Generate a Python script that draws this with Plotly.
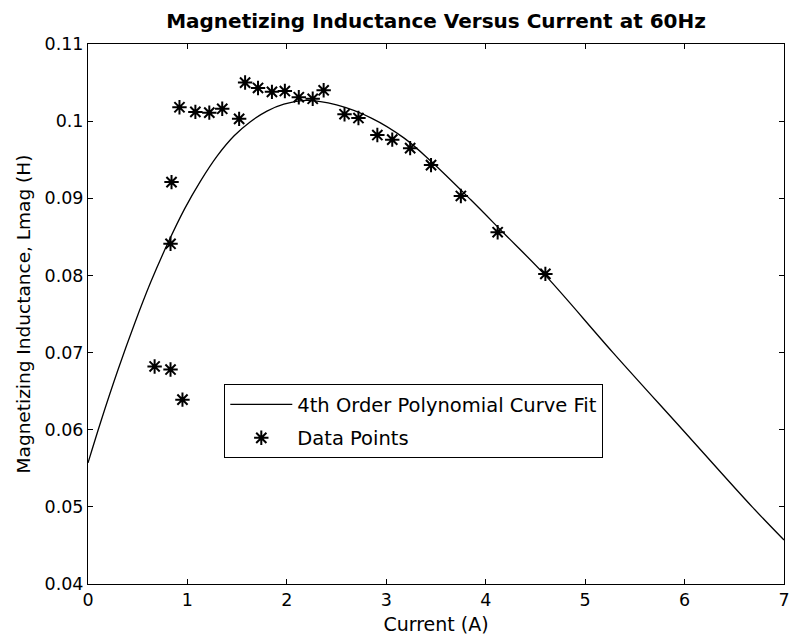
import plotly.graph_objects as go

# Measured data points (Current in A, Magnetizing inductance in H)
current_points = [0.67, 0.83, 0.95, 0.83, 0.84, 0.92, 1.08, 1.22, 1.35, 1.52, 1.58, 1.71, 1.85,
                  1.98, 2.12, 2.26, 2.37, 2.58, 2.72, 2.91, 3.06, 3.24, 3.45, 3.75, 4.12, 4.60]
inductance_points = [0.0682, 0.0678, 0.0639, 0.0841, 0.0921, 0.1018, 0.1012, 0.1011, 0.1016, 0.1003,
                     0.1050, 0.1043, 0.1038, 0.1039, 0.1031, 0.1029, 0.1040, 0.1009, 0.1004, 0.0982,
                     0.0976, 0.0965, 0.0943, 0.0903, 0.0856, 0.0802]

# 4th order polynomial curve fit
fit_current = [0.0, 0.13, 0.30, 0.47, 0.63, 0.80, 0.97, 1.13, 1.30, 1.47, 1.63, 1.80, 1.97,
               2.20, 2.50, 2.85, 3.18, 3.45, 3.85, 4.18, 4.60, 5.28, 5.98, 6.68, 7.0]
fit_inductance = [0.0557, 0.0611, 0.0677, 0.0738, 0.0791, 0.0841, 0.0886, 0.0922, 0.0955, 0.0981,
                  0.0999, 0.1013, 0.1022, 0.1027, 0.1021, 0.1004, 0.0978, 0.0948, 0.0898, 0.0855,
                  0.0800, 0.0700, 0.0600, 0.0500, 0.0457]

x_ticks = [0, 1, 2, 3, 4, 5, 6, 7]
y_ticks = [0.04, 0.05, 0.06, 0.07, 0.08, 0.09, 0.10, 0.11]
y_tick_labels = ["0.04", "0.05", "0.06", "0.07", "0.08", "0.09", "0.1", "0.11"]

FONT = "DejaVu Sans"

fig = go.Figure()
fig.add_trace(go.Scatter(
    x=fit_current, y=fit_inductance, mode="lines",
    line=dict(color="black", width=1.3, shape="spline", smoothing=1.0),
    name="4th Order Polynomial Curve Fit", legendgroup="a",
))
fig.add_trace(go.Scatter(
    x=current_points, y=inductance_points, mode="markers",
    marker=dict(symbol="asterisk-open", size=12, color="black", line=dict(color="black", width=2)),
    name="Data Points", legendgroup="b",
))

axis_common = dict(
    showline=True, linecolor="black", linewidth=1, mirror="ticks",
    ticks="inside", ticklen=5, tickcolor="black", tickwidth=1,
    showgrid=False, zeroline=False, automargin=False,
    tickfont=dict(family=FONT, size=17.5, color="black"),
)

fig.update_layout(
    width=791, height=642,
    margin=dict(l=88, r=7, t=44, b=58),
    paper_bgcolor="white", plot_bgcolor="white",
    title=dict(
        text="Magnetizing Inductance Versus Current at 60Hz",
        font=dict(family=FONT, size=20, color="black", weight="bold"),
        x=0.5, xref="paper", xanchor="center",
        y=1 - 20.5 / 642, yref="container", yanchor="middle",
    ),
    xaxis=dict(
        range=[0, 7], tickvals=x_ticks, ticklabeloverflow="allow",
        title=dict(text="Current (A)", font=dict(family=FONT, size=19, color="black"), standoff=8),
        **axis_common,
    ),
    yaxis=dict(
        range=[0.04, 0.11], tickvals=y_ticks, ticktext=y_tick_labels,
        title=dict(text="Magnetizing Inductance, Lmag (H)", font=dict(family=FONT, size=18.5, color="black"), standoff=9),
        **axis_common,
    ),
    legend=dict(
        x=(224.3 - 88) / 696, y=(584 - 384.3) / 540, xanchor="left", yanchor="top",
        bordercolor="black", borderwidth=1, bgcolor="white",
        font=dict(family=FONT, size=19.5, color="black"),
        itemwidth=62, tracegroupgap=5,
    ),
    showlegend=True,
)

fig.write_html("out.html")
